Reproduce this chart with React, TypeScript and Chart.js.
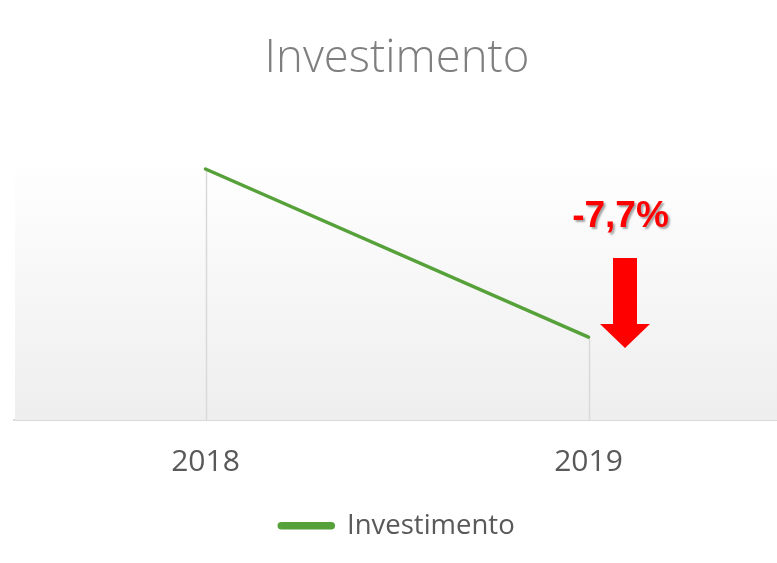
import React, { useEffect, useRef } from "react";
import { Chart, registerables } from "chart.js";

Chart.register(...registerables);

const categories = ["2018", "2019"];
const seriesName = "Investimento";
const investimento = [100, 92.3];
const changeLabel = "-7,7%";

const GREEN = "#57a13a";

const decorPlugin = {
  id: "decor",
  beforeDatasetsDraw(chart: any) {
    const { ctx, chartArea } = chart;
    const g = ctx.createLinearGradient(0, chartArea.top, 0, chartArea.bottom);
    g.addColorStop(0, "#ffffff");
    g.addColorStop(1, "#eeeeee");
    ctx.save();
    ctx.fillStyle = g;
    ctx.fillRect(chartArea.left + 1, chartArea.top, chartArea.right - chartArea.left, chartArea.bottom - chartArea.top);
    const meta = chart.getDatasetMeta(0);
    ctx.strokeStyle = "#d9d9d9";
    ctx.lineWidth = 1.5;
    meta.data.forEach((pt: any) => {
      ctx.beginPath();
      ctx.moveTo(Math.round(pt.x) + 0.5, pt.y);
      ctx.lineTo(Math.round(pt.x) + 0.5, chartArea.bottom);
      ctx.stroke();
    });
    ctx.restore();
  },
  afterDatasetsDraw(chart: any) {
    const { ctx, chartArea } = chart;
    const meta = chart.getDatasetMeta(0);
    const last = meta.data[meta.data.length - 1];
    const bx = last.x;
    const top = chartArea.top;
    ctx.save();
    ctx.font = "bold 37px 'Liberation Sans', Arial, sans-serif";
    ctx.textAlign = "center";
    ctx.textBaseline = "alphabetic";
    ctx.shadowColor = "rgba(0,0,0,0.35)";
    ctx.shadowOffsetX = 2;
    ctx.shadowOffsetY = 2;
    ctx.shadowBlur = 2;
    ctx.fillStyle = "#ff0000";
    ctx.fillText(changeLabel, bx + 32, top + 69);
    ctx.shadowColor = "transparent";
    ctx.beginPath();
    ctx.moveTo(bx + 24.5, top + 100);
    ctx.lineTo(bx + 48.5, top + 100);
    ctx.lineTo(bx + 48.5, top + 166);
    ctx.lineTo(bx + 61.5, top + 166);
    ctx.lineTo(bx + 36.5, top + 190);
    ctx.lineTo(bx + 11.5, top + 166);
    ctx.lineTo(bx + 24.5, top + 166);
    ctx.closePath();
    ctx.fill();
    ctx.restore();
  },
};

export default function App() {
  const ref = useRef<HTMLCanvasElement | null>(null);
  useEffect(() => {
    if (!ref.current) return;
    const chart = new Chart(ref.current, {
      type: "line",
      data: {
        labels: categories,
        datasets: [
          {
            label: seriesName,
            data: investimento,
            borderColor: GREEN,
            backgroundColor: GREEN,
            borderWidth: 3.5,
            borderCapStyle: "round",
            pointRadius: 0,
            pointHoverRadius: 0,
            tension: 0,
          },
        ],
      },
      options: {
        responsive: false,
        animation: false,
        devicePixelRatio: 1,
        layout: { padding: { left: 14, right: 0, top: 0, bottom: 13.5 } },
        plugins: {
          title: {
            display: true,
            text: "Investimento",
            color: "#7f7f7f",
            font: { family: "'Open Sans', sans-serif", size: 45.5, weight: "300", lineHeight: 1.2 },
            padding: { top: 31.5, bottom: 72 },
          },
          legend: {
            display: true,
            position: "bottom",
            labels: {
              color: "#595959",
              font: { family: "'Open Sans', sans-serif", size: 27.5 },
              boxWidth: 54,
              boxHeight: 4,
              useBorderRadius: true,
              borderRadius: 2,
              padding: 8,
            },
          },
          tooltip: { enabled: false },
        },
        scales: {
          x: {
            offset: true,
            grid: { display: false, drawTicks: false },
            border: { display: true, color: "#d9d9d9", width: 2 },
            ticks: {
              color: "#595959",
              font: { family: "'Open Sans', sans-serif", size: 30, lineHeight: 2 },
              padding: 12,
            },
          },
          y: {
            display: false,
            min: 88.5,
            max: 100.5,
          },
        },
      },
      plugins: [decorPlugin],
    } as any);
    return () => chart.destroy();
  }, []);
  return (
    <div style={{ position: "fixed", left: 0, top: 0, width: 777, height: 563, overflow: "hidden", background: "#fff" }}>
      <canvas ref={ref} width={780} height={563} style={{ display: "block", width: 780, height: 563 }} />
    </div>
  );
}
